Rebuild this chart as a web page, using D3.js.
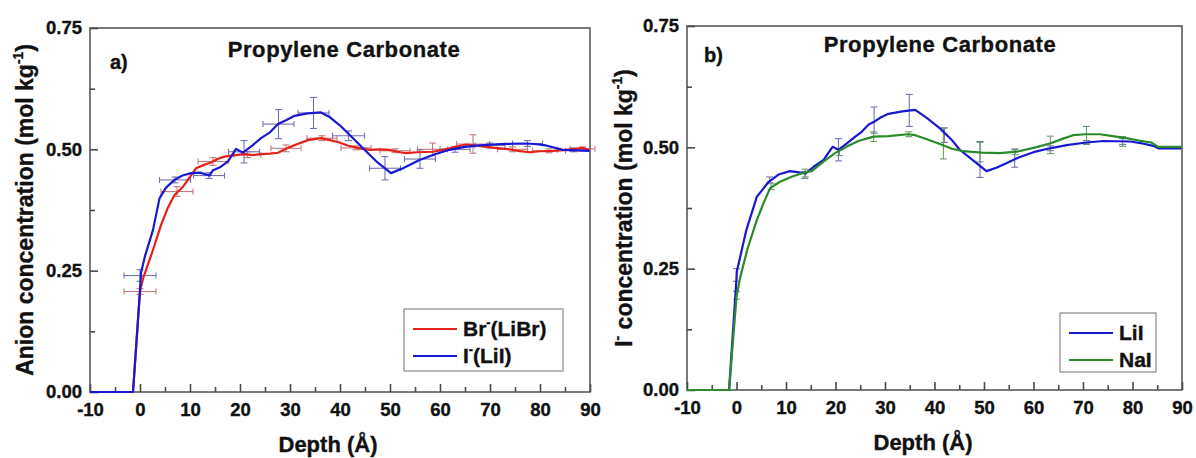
<!DOCTYPE html>
<html>
<head>
<meta charset="utf-8">
<script src="https://cdn.jsdelivr.net/npm/d3@7"></script>
<style>
  body { margin: 0; background: white; }
  text { font-family: "Liberation Sans", Arial, sans-serif; font-weight: bold; fill: #111; stroke: #111; stroke-width: 0.35px; }
</style>
</head>
<body>
<div id="container"></div>
<script>
let w = 1196;
let h = 458;

// DATA (depth in Å, concentration in mol/kg)
let xTicks = [-10, 0, 10, 20, 30, 40, 50, 60, 70, 80, 90];
let xMinor = [-5, 5, 15, 25, 35, 45, 55, 65, 75, 85];
let yTicks = [0, 0.25, 0.5, 0.75];
let yMinor = [0.125, 0.375, 0.625];

// panel a) Br- (LiBr)
let brLine = [[-10,0],[-1.4,0],[0,0.207],[0.6,0.234],[1.2,0.251],[2.5,0.29],[3.9,0.334],[4.2,0.344],[5.5,0.378],[6.9,0.406],[8.6,0.423],[10,0.443],[11.2,0.461],[12.8,0.468],[14.2,0.473],[15.5,0.48],[16.9,0.485],[19,0.488],[20.9,0.490],[22.5,0.488],[24.2,0.490],[26,0.491],[27.6,0.493],[29.6,0.503],[31.5,0.511],[33.6,0.519],[36.2,0.523],[38,0.519],[39.9,0.514],[41.5,0.508],[43.9,0.502],[46,0.499],[48,0.5],[49.9,0.499],[51.5,0.495],[53.2,0.492],[55.5,0.494],[58.6,0.495],[60.5,0.499],[61.9,0.502],[63.5,0.506],[65.2,0.510],[67,0.508],[69.2,0.505],[71,0.503],[73.2,0.501],[75.5,0.497],[78,0.494],[80,0.496],[82.6,0.497],[85,0.499],[87.2,0.501],[88.5,0.503],[90,0.498]];
// [depth, conc, depth err, conc err]
let brErr = [[0,0.207,3.2,0.006],[7.4,0.413,3.2,0.010],[14.6,0.475,3.0,0.008],[21.5,0.489,2.7,0.006],[29.2,0.502,3.0,0.007],[36.4,0.523,3.0,0.005],[43.2,0.503,3.0,0.004],[51.0,0.497,3.0,0.004],[58.5,0.500,3.0,0.013],[66.6,0.511,3.3,0.019],[74.5,0.500,3.0,0.005],[81.8,0.497,3.3,0.004],[88.5,0.501,2.5,0.004]];

// panel a) I- (LiI)
let iLineA = [[-10,0],[-1.4,0],[0,0.21],[0.2,0.245],[1,0.28],[2.6,0.334],[3.9,0.399],[5.2,0.421],[6.9,0.437],[8.5,0.446],[10.2,0.451],[12,0.452],[13.9,0.446],[14.6,0.457],[16,0.463],[17.6,0.475],[19.2,0.501],[20.6,0.493],[22.5,0.508],[24.2,0.523],[26,0.535],[27.6,0.552],[29.2,0.56],[30.9,0.569],[33.5,0.574],[36.2,0.576],[38,0.566],[39.9,0.550],[42.5,0.524],[44.9,0.499],[47.5,0.473],[50.2,0.451],[52.6,0.461],[55.9,0.478],[59,0.49],[61.9,0.499],[65,0.505],[67.9,0.508],[72,0.511],[77.2,0.512],[79,0.511],[81.2,0.508],[84.6,0.499],[87,0.498],[89.9,0.497]];
let iErrA = [[0,0.24,3.2,0.012],[7.0,0.437,3.1,0.006],[13.8,0.446,3.1,0.006],[20.8,0.495,3.1,0.023],[27.7,0.552,3.1,0.030],[34.7,0.575,3.1,0.032],[41.7,0.528,3.2,0.010],[49.0,0.461,3.1,0.024],[56.0,0.480,3.1,0.019],[63.0,0.500,3.0,0.006],[70.0,0.508,3.0,0.005],[77.5,0.512,3.0,0.006],[86.7,0.499,3.2,0.004]];

// panel b) LiI
let iLineB = [[-10,0],[-1.5,0],[0,0.23],[0.06,0.244],[2.0,0.33],[4.1,0.398],[6.5,0.429],[8.5,0.444],[10.8,0.451],[12.3,0.449],[13.9,0.446],[15.6,0.460],[17.6,0.474],[19.4,0.501],[20.6,0.495],[22.3,0.508],[24.0,0.522],[25.3,0.532],[26.7,0.547],[27.7,0.552],[29.2,0.562],[30.7,0.569],[33.5,0.574],[36.1,0.577],[38.5,0.560],[41.1,0.539],[43.5,0.515],[45.1,0.495],[47.8,0.473],[50.5,0.451],[52.5,0.458],[54.5,0.467],[57,0.479],[60,0.49],[63.3,0.498],[67,0.505],[70.7,0.510],[74.1,0.513],[79.5,0.512],[82,0.508],[84.2,0.503],[85.2,0.498],[89.9,0.498]];
let iErrB = [[0,0.237,0,0.013],[6.7,0.433,0,0.006],[13.8,0.443,0,0.007],[20.6,0.495,0,0.023],[27.8,0.556,0,0.027],[34.9,0.576,0,0.033],[42.0,0.525,0,0.015],[49.2,0.475,0,0.037],[56.2,0.477,0,0.018],[63.4,0.498,0,0.005],[70.7,0.510,0,0.004],[78.0,0.512,0,0.006]];

// panel b) NaI
let naLine = [[-10,0],[-1.5,0],[0,0.192],[0.7,0.23],[2.2,0.29],[4.1,0.350],[5.5,0.386],[6.8,0.416],[8.8,0.429],[11.3,0.440],[13.9,0.449],[15.2,0.451],[17.5,0.47],[19.9,0.488],[22.2,0.501],[24.6,0.513],[27.7,0.522],[30.7,0.523],[34.7,0.527],[36.1,0.525],[38.6,0.516],[41.1,0.507],[43.5,0.497],[45.8,0.492],[49.5,0.489],[53.2,0.488],[56.6,0.491],[60,0.499],[63.3,0.508],[66,0.518],[68.0,0.525],[70.5,0.527],[73.4,0.527],[76,0.523],[78.7,0.519],[81.3,0.514],[83.8,0.510],[85.2,0.501],[89.9,0.501]];
let naErr = [[0,0.195,0,0.008],[7.0,0.419,0,0.006],[13.9,0.447,0,0.008],[20.8,0.489,0,0.006],[27.7,0.522,0,0.010],[34.8,0.527,0,0.005],[41.8,0.508,0,0.032],[49.2,0.490,0,0.020],[56.3,0.491,0,0.006],[63.4,0.505,0,0.018],[70.7,0.525,0,0.018],[78.0,0.512,0,0.010]];

let red = "#e3201c", blue = "#1818d0", green = "#2b8a2b";
let redErr = "#c47a7a", blueErr = "#7373b3", greenErr = "#6f9c6f";

// SVG
let viz = d3.select("#container").append("svg")
  .attr("width", w)
  .attr("height", h)
  .style("background-color", "white");

let panels = [
  {
    box: [90, 590, 28, 392], letter: "a)", letterPos: [110, 69],
    titlePos: [344, 57], xlabPos: [328, 452], ylabX: 33,
    ylab: [["Anion concentration (mol kg", false], ["-1", true], [")", false]],
    series: [
      { line: brLine, err: brErr, color: red, errColor: redErr, label: [["Br", false], ["-", true], ["(LiBr)", false]] },
      { line: iLineA, err: iErrA, color: blue, errColor: blueErr, label: [["I", false], ["-", true], ["(LiI)", false]] }
    ],
    legend: [404, 309, 159, 62]
  },
  {
    box: [687, 1182, 26, 390], letter: "b)", letterPos: [704, 62],
    titlePos: [940, 52], xlabPos: [923, 450], ylabX: 632,
    ylab: [["I", false], ["-", true], [" concentration (mol kg", false], ["-1", true], [")", false]],
    series: [
      { line: iLineB, err: iErrB, color: blue, errColor: blueErr, label: [["LiI", false]] },
      { line: naLine, err: naErr, color: green, errColor: greenErr, label: [["NaI", false]] }
    ],
    legend: [1060, 313, 96, 59]
  }
];

// writes runs of text, some of them superscript
function addRuns(textSel, runs, size) {
  let shifted = false;
  runs.forEach(r => {
    let t = textSel.append("tspan").text(r[0]);
    if (r[1] && !shifted) { t.attr("dy", -size * 0.42).attr("font-size", size * 0.6); shifted = true; }
    else if (!r[1] && shifted) { t.attr("dy", size * 0.42); shifted = false; }
  });
}

panels.forEach(p => {
  let [x0, x1, y0, y1] = p.box;
  let xScale = d3.scaleLinear().domain([-10, 90]).range([x0, x1]);
  let yScale = d3.scaleLinear().domain([0, 0.75]).range([y1, y0]);
  let g = viz.append("g");

  // frame
  g.append("rect")
    .attr("x", x0).attr("y", y0)
    .attr("width", x1 - x0).attr("height", y1 - y0)
    .attr("fill", "none").attr("stroke", "#5a5a5a").attr("stroke-width", 1.6);

  // axes with inward ticks
  g.append("g").attr("transform", "translate(0," + y1 + ")")
    .call(d3.axisBottom(xScale).tickValues(xTicks).tickSizeInner(-8).tickSizeOuter(0).tickPadding(11).tickFormat(d => String(d)));
  g.append("g").attr("transform", "translate(0," + y1 + ")")
    .call(d3.axisBottom(xScale).tickValues(xMinor).tickSizeInner(-5).tickSizeOuter(0).tickFormat(""));
  g.append("g").attr("transform", "translate(" + x0 + ",0)")
    .call(d3.axisLeft(yScale).tickValues(yTicks).tickSizeInner(-8).tickSizeOuter(0).tickPadding(8).tickFormat(d3.format(".2f")));
  g.append("g").attr("transform", "translate(" + x0 + ",0)")
    .call(d3.axisLeft(yScale).tickValues(yMinor).tickSizeInner(-5).tickSizeOuter(0).tickFormat(""));
  g.selectAll(".domain").remove();
  g.selectAll(".tick line").attr("stroke", "#4a4a4a").attr("stroke-width", 1.6);
  g.selectAll(".tick text").attr("font-size", 18.5).attr("font-family", null).attr("fill", "#111");

  // error bars first, lines on top
  p.series.forEach(s => {
    let eg = g.append("g").attr("stroke", s.errColor).attr("stroke-width", 1.1).attr("fill", "none");
    s.err.forEach(e => {
      let cx = xScale(e[0]), cy = yScale(e[1]);
      let ya = yScale(e[1] + e[3]), yb = yScale(e[1] - e[3]);
      eg.append("line").attr("x1", cx).attr("x2", cx).attr("y1", ya).attr("y2", yb);
      eg.append("line").attr("x1", cx - 3.5).attr("x2", cx + 3.5).attr("y1", ya).attr("y2", ya);
      eg.append("line").attr("x1", cx - 3.5).attr("x2", cx + 3.5).attr("y1", yb).attr("y2", yb);
      if (e[2] > 0) {
        let xa = xScale(e[0] - e[2]), xb = xScale(e[0] + e[2]);
        eg.append("line").attr("x1", xa).attr("x2", xb).attr("y1", cy).attr("y2", cy);
        eg.append("line").attr("x1", xa).attr("x2", xa).attr("y1", cy - 3).attr("y2", cy + 3);
        eg.append("line").attr("x1", xb).attr("x2", xb).attr("y1", cy - 3).attr("y2", cy + 3);
      }
    });
  });

  let lineMaker = d3.line().x(d => xScale(d[0])).y(d => yScale(d[1]));
  p.series.forEach(s => {
    g.append("path")
      .attr("d", lineMaker(s.line))
      .attr("fill", "none")
      .attr("stroke", s.color)
      .attr("stroke-width", 2.2)
      .attr("stroke-linejoin", "round");
  });

  // texts
  g.append("text").attr("x", p.titlePos[0]).attr("y", p.titlePos[1])
    .attr("text-anchor", "middle").attr("font-size", 22).attr("letter-spacing", 0.6)
    .text("Propylene Carbonate");
  g.append("text").attr("x", p.letterPos[0]).attr("y", p.letterPos[1])
    .attr("font-size", 20).text(p.letter);
  g.append("text").attr("x", p.xlabPos[0]).attr("y", p.xlabPos[1])
    .attr("text-anchor", "middle").attr("font-size", 22).text("Depth (Å)");
  let yl = g.append("text")
    .attr("transform", "translate(" + p.ylabX + "," + (y0 + y1) / 2 + ") rotate(-90)")
    .attr("text-anchor", "middle").attr("font-size", 23);
  addRuns(yl, p.ylab, 23);

  // legend
  let [lx, ly, lw, lh] = p.legend;
  g.append("rect").attr("x", lx).attr("y", ly).attr("width", lw).attr("height", lh)
    .attr("fill", "white").attr("stroke", "#8a8a8a").attr("stroke-width", 1.2);
  p.series.forEach((s, i) => {
    let ry = ly + 20 + i * 27;
    g.append("line").attr("x1", lx + 9).attr("x2", lx + 53).attr("y1", ry).attr("y2", ry)
      .attr("stroke", s.color).attr("stroke-width", 2);
    let t = g.append("text").attr("x", lx + 59).attr("y", ry + 7).attr("font-size", 21);
    addRuns(t, s.label, 21);
  });
});
</script>
</body>
</html>
